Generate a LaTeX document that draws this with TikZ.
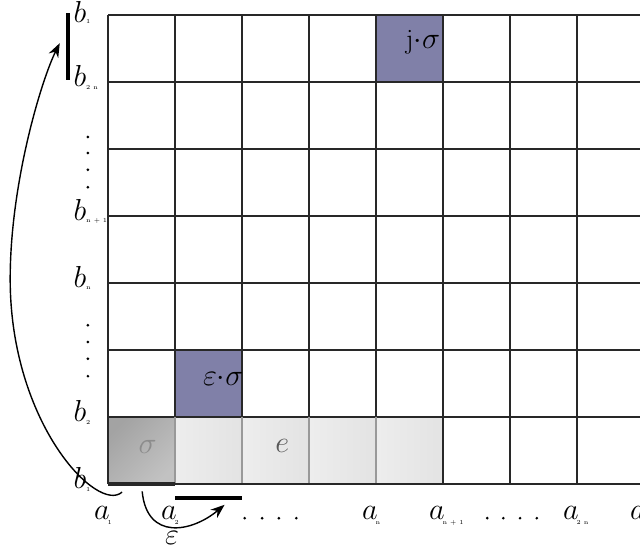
\documentclass[tikz,border=0pt]{standalone}
\usetikzlibrary{arrows.meta}
\definecolor{cellpurple}{RGB}{128,128,168}
\definecolor{gridline}{RGB}{40,40,40}
\tikzset{
  lbl/.style={font=\fontsize{16}{16}\selectfont, inner sep=0pt},
  sub/.style={font=\fontsize{3.5}{3.5}\selectfont, inner sep=0pt, anchor=west},
}
\begin{document}
\begin{tikzpicture}[x=1.34cm, y=1.34cm, >={Stealth[length=8pt,width=6pt]}]
	\useasboundingbox (-1.612,-0.970) rectangle (7.940,7.224);
	% lower row of cells
	\shade[left color=black!36, right color=black!24, shading angle=45] (0,0) rectangle (1,1);
	\foreach \i in {1,...,4}
		\shade[left color=black!7, right color=black!11] (\i,0) rectangle ++(1,1);
	\fill[cellpurple] (1,1) rectangle (2,2);
	\fill[cellpurple] (4,6) rectangle (5,7);
	% grid
	\begin{scope}[gridline, line width=1.1pt]
		\foreach \y in {1,...,7}
			\draw (0,\y) -- (7.94,\y);
		\foreach \x in {0,5,6,7}
			\draw (\x,0) -- (\x,7);
		\foreach \x in {1,...,4}
			\draw (\x,1) -- (\x,7);
	\end{scope}
	\foreach \x in {1,...,4}
		\draw[black!40, line width=0.8pt] (\x,0) -- (\x,1);
	\draw[gridline, line width=1.3pt] (0,0) -- (7.94,0);
	\draw[gridline, line width=2pt] (0,0) -- (1,0);
	% cell texts
	\node[lbl, black!45] (sig) at (0.59,0.55) {$\sigma$};
	\node[lbl, black!65] (e) at (2.60,0.57) {$e$};
	\node[lbl] (esig) at (1.72,1.57) {$\varepsilon{\cdot}\sigma$};
	\node[lbl] (jsig) at (4.70,6.60) {j${\cdot}\sigma$};
	% labels b on the left
	\node[lbl] (b1top) at (-0.42,7.04) {$b$};   \node[sub] (b1tops) at (-0.33,6.90) {1};
	\node[lbl] (b2n) at (-0.42,6.09) {$b$};     \node[sub] (b2ns) at (-0.33,5.92) {2 n};
	\node[lbl] (bn1) at (-0.42,4.09) {$b$};     \node[sub] (bn1s) at (-0.33,3.92) {n + 1};
	\node[lbl] (bn) at (-0.42,3.09) {$b$};      \node[sub] (bns) at (-0.33,2.92) {n};
	\node[lbl] (b2) at (-0.42,1.09) {$b$};      \node[sub] (b2s) at (-0.33,0.92) {2};
	\node[lbl] (b1) at (-0.42,0.09) {$b$};      \node[sub] (b1s) at (-0.33,-0.08) {1};
	\foreach \y in {5.18,4.94,4.69,4.43,2.37,2.12,1.87,1.61}
		\fill (-0.30,\y) circle (0.022);
	% labels a at the bottom
	\node[lbl] (a1) at (-0.09,-0.43) {$a$};     \node[sub] (a1s) at (-0.01,-0.58) {1};
	\node[lbl] (a2) at (0.91,-0.43) {$a$};      \node[sub] (a2s) at (0.99,-0.58) {2};
	\node[lbl] (an) at (3.91,-0.43) {$a$};      \node[sub] (ans) at (3.99,-0.58) {n};
	\node[lbl] (an1) at (4.91,-0.43) {$a$};     \node[sub] (an1s) at (4.99,-0.58) {n + 1};
	\node[lbl] (a2n) at (6.91,-0.43) {$a$};     \node[sub] (a2ns) at (6.99,-0.58) {2 n};
	\node[lbl] (alast) at (7.91,-0.43) {$a$};
	\foreach \x in {2.04,2.30,2.55,2.81,5.66,5.90,6.15,6.40}
		\fill (\x,-0.51) circle (0.022);
	% bars
	\draw[line width=2.3pt] (-0.60,6.03) -- (-0.60,7.03);
	\draw[line width=2.3pt] (1,-0.21) -- (2,-0.21);
	% arrows
	\coordinate (from1) at (0.21,-0.12);
	\coordinate (mid1) at (-1.46,3.06);
	\coordinate (to1) at (-0.72,6.58);
	\draw[->, line width=0.8pt] (from1) .. controls (-0.15,-0.45) and (-1.46,0.9) .. (mid1)
		.. controls (-1.46,4.5) and (-0.99,6.04) .. (to1);
	\coordinate (from2) at (0.51,-0.11);
	\coordinate (to2) at (1.74,-0.31);
	\draw[->, line width=0.8pt] (from2) .. controls (0.58,-0.85) and (1.25,-0.72) .. (to2);
	\node[lbl] (eps) at (0.955,-0.81) {$\varepsilon$};
\end{tikzpicture}
\end{document}
